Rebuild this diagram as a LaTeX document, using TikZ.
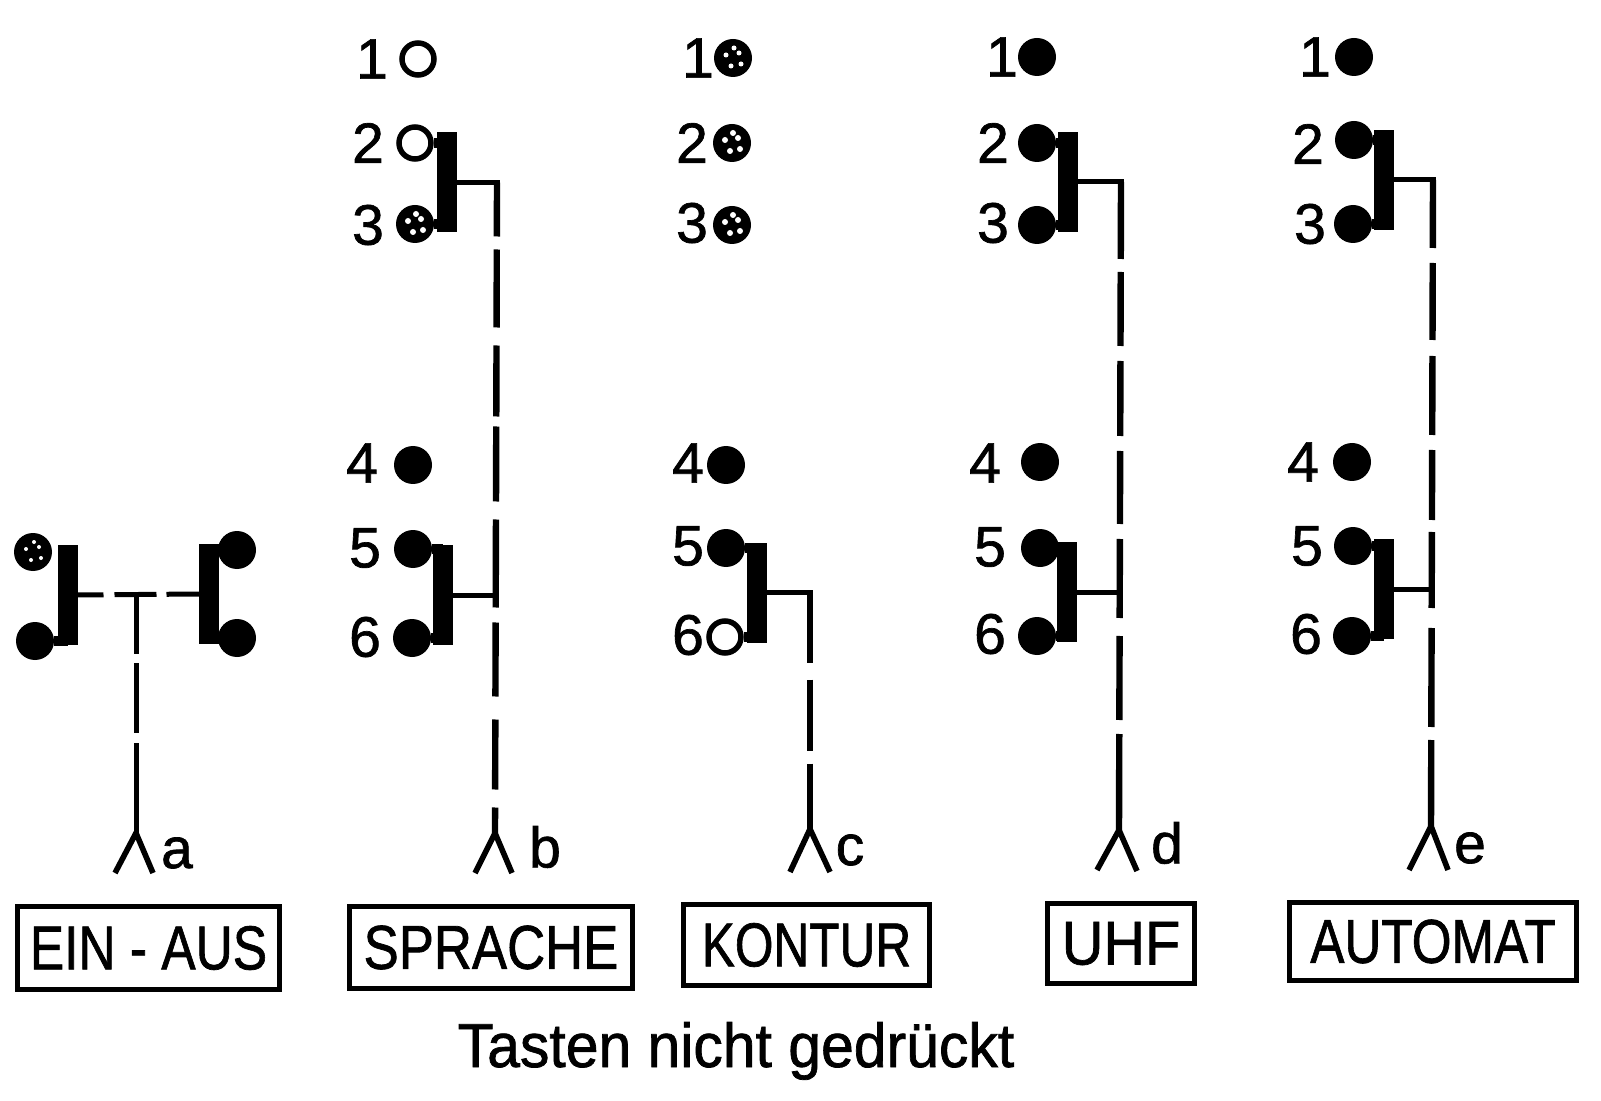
\documentclass[tikz,border=0pt]{standalone}
\usepackage{graphicx}
\usepackage{fontspec}
\setmainfont{Liberation Sans}[FakeBold=1.2]
\newcommand{\speckle}[2]{\foreach \dx/\dy in {-7/-3,6/-5,-2/8,1/-10,8/6}{\fill[white] (#1.center) ++(\dx,\dy) circle[radius=#2];}}
\newcommand{\nar}[2]{\scalebox{#1}[1]{#2}}
\tikzset{
  lab/.style={inner sep=0pt,outer sep=0pt,font=\fontsize{31}{31}\selectfont,text=black},
  sml/.style={inner sep=0pt,outer sep=0pt,font=\fontsize{28.5}{28.5}\selectfont,text=black},
  blob/.style={circle,fill=black,inner sep=0pt,outer sep=0pt,minimum size=19pt},
  ring/.style={circle,draw=black,fill=white,line width=2.75pt,inner sep=0pt,minimum size=16pt},
  contactbar/.style={rectangle,fill=black,inner sep=0pt,outer sep=0pt,minimum width=10pt,minimum height=50pt},
  keybox/.style={rectangle,draw=black,line width=2.5pt,inner sep=0pt,lab},
  arm/.style={line width=5pt,black},
  wire/.style={line width=2.5pt,black},
  stem/.style={line width=3.2pt,black},
  fork/.style={line width=2.8pt,black,line join=miter},
}
\begin{document}
\begin{tikzpicture}[x=0.5pt,y=-0.5pt]
\fill[white] (0,0) rectangle (1601,1101);
\useasboundingbox (0,0) rectangle (1601,1101);

% ---- column a
\node[blob] (a1) at (33,552) {};
\node[blob] (a2) at (35,641) {};
\node[blob] (a3) at (237,550) {};
\node[blob] (a4) at (237,638) {};
\node[contactbar] (aL) at (67.5,595) {};
\node[contactbar] (aR) at (209,594) {};
\speckle{a1}{2}
\draw[arm] (a2.east) -- (a2 -| aL.center);
\draw[arm] (a3.west) -- (a3 -| aR.center);
\draw[arm] (a4.west) -- (a4 -| aR.center);
\draw[wire,dash pattern=on 13pt off 5.5pt on 21pt off 5pt on 20pt] (aL.east) -- (aR.west);
\coordinate (aT) at (136,595);
\coordinate (aA) at (136,833);
\coordinate (aFl) at (115,873);
\coordinate (aFr) at (153,873);
\draw[wire,dash pattern=on 29.5pt off 4.5pt on 35pt off 5pt on 60pt] (aT) -- (aA);
\draw[fork] (aFl) -- (aA) -- (aFr);
\node[sml] (la) at (177,853) {a};

% ---- column b
\node[ring] (b1) at (418,59) {};
\node[ring] (b2) at (415,143) {};
\node[blob] (b3) at (415,224) {};
\node[blob] (b4) at (413,465) {};
\node[blob] (b5) at (413,549) {};
\node[blob] (b6) at (412,638) {};
\speckle{b3}{3}
\node[contactbar] (bU) at (447,182.5) {};
\node[contactbar] (bD) at (443,595) {};
\draw[arm] (b2.east) -- (b2 -| bU.center);
\draw[arm] (b3.east) -- (b3 -| bU.center);
\draw[arm] (b5.east) -- (b5 -| bD.center);
\draw[arm] (b6.east) -- (b6 -| bD.center);
\coordinate (bC) at (497,182.5);
\coordinate (bA) at (495,833);
\coordinate (bFl) at (475,873);
\coordinate (bFr) at (512,873);
\draw[wire,line cap=rect] (bU.east) -- (bC);
\draw[stem,dash pattern=on 27pt off 6.5pt on 39pt off 9pt on 35.5pt off 5pt on 37.5pt off 9pt on 44pt off 7.5pt on 37pt off 11.5pt on 35pt off 9pt on 50pt] (bC) -- (bA);
\draw[wire] (bD.east) -- (bD.east -| bA);
\draw[fork] (bFl) -- (bA) -- (bFr);
\node[sml] (lb) at (545,847) {b};
\node[sml] (nb1) at (372,59) {1};
\node[sml] (nb2) at (368,143) {2};
\node[sml] (nb3) at (368,225) {3};
\node[sml] (nb4) at (362,463) {4};
\node[sml] (nb5) at (365,548) {5};
\node[sml] (nb6) at (365,637) {6};

% ---- column c
\node[blob] (c1) at (733,58) {};
\node[blob] (c2) at (732,143) {};
\node[blob] (c3) at (732,225) {};
\node[blob] (c4) at (726,465) {};
\node[blob] (c5) at (726,548) {};
\node[ring] (c6) at (725,637) {};
\speckle{c1}{2.5}\speckle{c2}{3}\speckle{c3}{3}
\node[contactbar] (cD) at (756.5,592.5) {};
\draw[arm] (c5.east) -- (c5 -| cD.center);
\draw[arm] (c6.east) -- (c6 -| cD.center);
\coordinate (cC) at (810,592.5);
\coordinate (cA) at (810,829);
\coordinate (cFl) at (790,872);
\coordinate (cFr) at (830,872);
\draw[wire,line cap=rect] (cD.east) -- (cC);
\draw[stem,dash pattern=on 35pt off 8.5pt on 35.5pt off 6.5pt on 50pt] (cC) -- (cA);
\draw[fork] (cFl) -- (cA) -- (cFr);
\node[sml] (lc) at (850,850) {c};
\node[sml] (nc1) at (698,58) {1};
\node[sml] (nc2) at (692,143) {2};
\node[sml] (nc3) at (692,223) {3};
\node[sml] (nc4) at (688,463) {4};
\node[sml] (nc5) at (688,546) {5};
\node[sml] (nc6) at (688,635) {6};

% ---- column d
\node[blob] (d1) at (1037,57) {};
\node[blob] (d2) at (1037,143) {};
\node[blob] (d3) at (1037,225) {};
\node[blob] (d4) at (1040,462) {};
\node[blob] (d5) at (1040,548) {};
\node[blob] (d6) at (1037,636) {};
\node[contactbar] (dU) at (1067.5,182) {};
\node[contactbar] (dD) at (1067,592) {};
\draw[arm] (d2.east) -- (d2 -| dU.center);
\draw[arm] (d3.east) -- (d3 -| dU.center);
\draw[arm] (d5.east) -- (d5 -| dD.center);
\draw[arm] (d6.east) -- (d6 -| dD.center);
\coordinate (dC) at (1121,182);
\coordinate (dA) at (1119,830);
\coordinate (dFl) at (1097,870);
\coordinate (dFr) at (1137,871);
\draw[wire,line cap=rect] (dU.east) -- (dC);
\draw[stem,dash pattern=on 38.5pt off 6.5pt on 37pt off 7.5pt on 37.5pt off 7.5pt on 36.5pt off 7.5pt on 39.5pt off 9pt on 42pt off 7pt on 60pt] (dC) -- (dA);
\draw[wire] (dD.east) -- (dD.east -| dA);
\draw[fork] (dFl) -- (dA) -- (dFr);
\node[sml] (ld) at (1167,843) {d};
\node[sml] (nd1) at (1002,57) {1};
\node[sml] (nd2) at (993,143) {2};
\node[sml] (nd3) at (993,223) {3};
\node[sml] (nd4) at (985,463) {4};
\node[sml] (nd5) at (990,547) {5};
\node[sml] (nd6) at (990,634) {6};

% ---- column e
\node[blob] (e1) at (1354,57) {};
\node[blob] (e2) at (1354,140) {};
\node[blob] (e3) at (1353,224) {};
\node[blob] (e4) at (1352,462) {};
\node[blob] (e5) at (1353,546) {};
\node[blob] (e6) at (1352,636) {};
\node[contactbar] (eU) at (1383.5,180) {};
\node[contactbar] (eD) at (1383.5,589) {};
\draw[arm] (e2.east) -- (e2 -| eU.center);
\draw[arm] (e3.east) -- (e3 -| eU.center);
\draw[arm] (e5.east) -- (e5 -| eD.center);
\draw[arm] (e6.east) -- (e6 -| eD.center);
\coordinate (eC) at (1433,180);
\coordinate (eA) at (1431,826);
\coordinate (eFl) at (1409,870);
\coordinate (eFr) at (1448,870);
\draw[wire,line cap=rect] (eU.east) -- (eC);
\draw[stem,dash pattern=on 34pt off 7.5pt on 38.5pt off 8pt on 39.5pt off 7.5pt on 35pt off 6pt on 38pt off 10pt on 49.5pt off 6.5pt on 60pt] (eC) -- (eA);
\draw[wire] (eD.east) -- (eD.east -| eA);
\draw[fork] (eFl) -- (eA) -- (eFr);
\node[sml] (le) at (1470,848) {e};
\node[sml] (ne1) at (1315,57) {1};
\node[sml] (ne2) at (1308,144) {2};
\node[sml] (ne3) at (1310,224) {3};
\node[sml] (ne4) at (1303,462) {4};
\node[sml] (ne5) at (1307,546) {5};
\node[sml] (ne6) at (1306,634) {6};

% ---- key boxes
\node[keybox,minimum width=131pt,minimum height=41.5pt] (kA) at (148.5,948) {\nar{.83}{EIN - AUS}};
\node[keybox,minimum width=141.5pt,minimum height=41pt] (kB) at (491,947.5) {\nar{.85}{SPRACHE}};
\node[keybox,minimum width=123pt,minimum height=40.5pt] (kC) at (806.5,945) {\nar{.80}{KONTUR}};
\node[keybox,minimum width=73.5pt,minimum height=40pt] (kD) at (1121,943.5) {\nar{.93}{UHF}};
\node[keybox,minimum width=143.5pt,minimum height=39pt] (kE) at (1433,941.5) {\nar{.825}{AUTOMAT}};

\node[lab,anchor=base] (cap) at (736,1067) {\nar{.95}{Tasten nicht gedrückt}};
\end{tikzpicture}
\end{document}
